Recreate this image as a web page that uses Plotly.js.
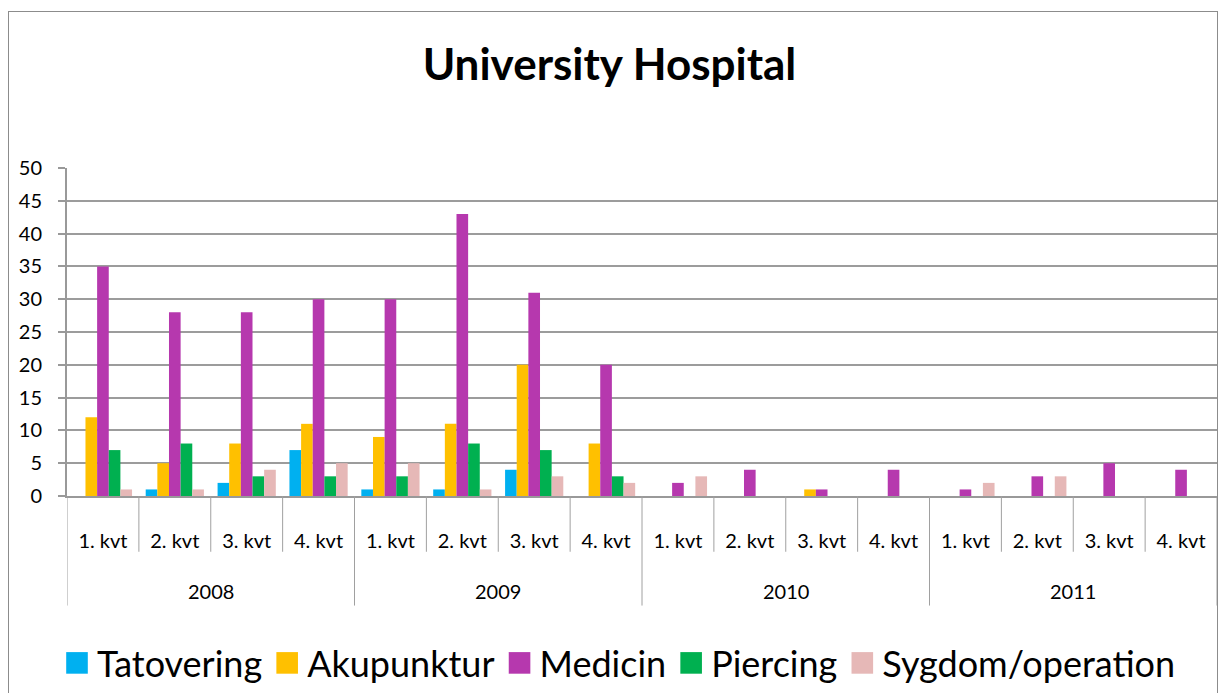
<!DOCTYPE html>
<html>
<head>
<meta charset="utf-8">
<script src="https://cdn.plot.ly/plotly-3.0.1.min.js"></script>
<style>
  html, body { margin: 0; padding: 0; background: #fff; }
  #wrap { position: relative; width: 1219px; height: 693px; overflow: hidden; }
  #chart { position: absolute; left: 0; top: 0; width: 1219px; height: 693px; }
  #frame { position: absolute; left: 8px; top: 11px; width: 1208px; height: 720px;
           border: 1px solid #8c8c8c; pointer-events: none; }
</style>
</head>
<body>
<div id="wrap">
  <div id="chart"></div>
  <div id="frame"></div>
</div>
<script>
const years = ['2008', '2009', '2010', '2011'];
const quarters = ['1. kvt', '2. kvt', '3. kvt', '4. kvt'];
const seriesNames = ['Tatovering', 'Akupunktur', 'Medicin', 'Piercing', 'Sygdom/operation'];
const tatovering = [0, 1, 2, 7, 1, 1, 4, 0, 0, 0, 0, 0, 0, 0, 0, 0];
const akupunktur = [12, 5, 8, 11, 9, 11, 20, 8, 0, 0, 1, 0, 0, 0, 0, 0];
const medicin    = [35, 28, 28, 30, 30, 43, 31, 20, 2, 4, 1, 4, 1, 3, 5, 4];
const piercing   = [7, 8, 3, 3, 3, 8, 7, 3, 0, 0, 0, 0, 0, 0, 0, 0];
const sygdom     = [1, 1, 4, 5, 5, 1, 3, 2, 3, 0, 0, 0, 2, 3, 0, 0];
const yTicks = [0, 5, 10, 15, 20, 25, 30, 35, 40, 45, 50];

const colors = ['#00B0F0', '#FFC000', '#B638AE', '#00B050', '#E6B8B7'];
const seriesValues = [tatovering, akupunktur, medicin, piercing, sygdom];

const nCat = years.length * quarters.length;
const xIdx = [];
const qLabels = [];
for (let y = 0; y < years.length; y++) {
  for (let q = 0; q < quarters.length; q++) {
    xIdx.push(y * quarters.length + q);
    qLabels.push(quarters[q]);
  }
}

const FONT = 'Lato, "Open Sans", sans-serif';

const traces = seriesValues.map((vals, i) => ({
  type: 'bar',
  name: seriesNames[i],
  x: xIdx,
  y: vals,
  marker: { color: colors[i], line: { width: 0 } },
  hoverinfo: 'name+y'
}));

const shapes = [];
const annotations = [];
for (let i = 0; i <= nCat; i++) {
  const isYear = (i % quarters.length === 0);
  shapes.push({
    type: 'line', xref: 'x', yref: 'paper',
    x0: i - 0.5, x1: i - 0.5, y0: 0, y1: isYear ? -0.334 : -0.17,
    line: { color: '#a0a0a0', width: 1 }
  });
}
years.forEach((yr, k) => {
  annotations.push({
    xref: 'x', yref: 'paper',
    x: k * quarters.length + (quarters.length - 1) / 2, y: -0.289,
    text: yr, showarrow: false, xanchor: 'center', yanchor: 'middle',
    font: { family: FONT, size: 20, color: '#000' }
  });
});

const layout = {
  width: 1219, height: 693,
  margin: { l: 67, r: 2, t: 168, b: 196 },
  paper_bgcolor: 'rgba(0,0,0,0)',
  plot_bgcolor: '#fff',
  title: {
    text: '<b>University Hospital</b>',
    xref: 'container', x: 0.5, xanchor: 'center',
    yref: 'container', y: 1 - 65 / 693, yanchor: 'middle',
    font: { family: FONT, size: 44, color: '#000' }
  },
  barmode: 'group',
  bargap: 0.19,
  bargroupgap: 0,
  xaxis: {
    type: 'linear',
    range: [-0.5, nCat - 0.5],
    tickmode: 'array',
    tickvals: xIdx,
    ticktext: qLabels,
    ticks: '',
    showgrid: false,
    zeroline: false,
    showline: true,
    linecolor: '#999',
    linewidth: 2,
    ticklabelstandoff: 26,
    tickfont: { family: FONT, size: 20, color: '#000' },
    fixedrange: true
  },
  yaxis: {
    range: [0, 50],
    tickmode: 'array',
    tickvals: yTicks,
    ticks: 'outside',
    ticklen: 7,
    tickcolor: '#999',
    tickwidth: 2,
    showgrid: true,
    gridcolor: '#9c9c9c',
    gridwidth: 2,
    zeroline: false,
    showline: true,
    linecolor: '#999',
    linewidth: 2,
    ticklabelstandoff: 12,
    tickfont: { family: FONT, size: 20, color: '#000' },
    fixedrange: true
  },
  showlegend: true,
  legend: {
    orientation: 'h',
    x: 0.5 - (642 - 619) / 1150, xanchor: 'center',
    y: -0.505, yanchor: 'middle',
    font: { family: FONT, size: 36, color: '#000' },
    itemwidth: 30,
    traceorder: 'normal',
    bgcolor: 'rgba(0,0,0,0)'
  },
  shapes: shapes,
  annotations: annotations
};

Plotly.newPlot('chart', traces, layout, { displayModeBar: false, staticPlot: true }).then(() => {
  document.querySelectorAll('#chart .legend .legendpoints path').forEach(p => {
    const t = p.getAttribute('transform') || '';
    p.setAttribute('transform', t + ' scale(1.8)');
  });
});
</script>
</body>
</html>
